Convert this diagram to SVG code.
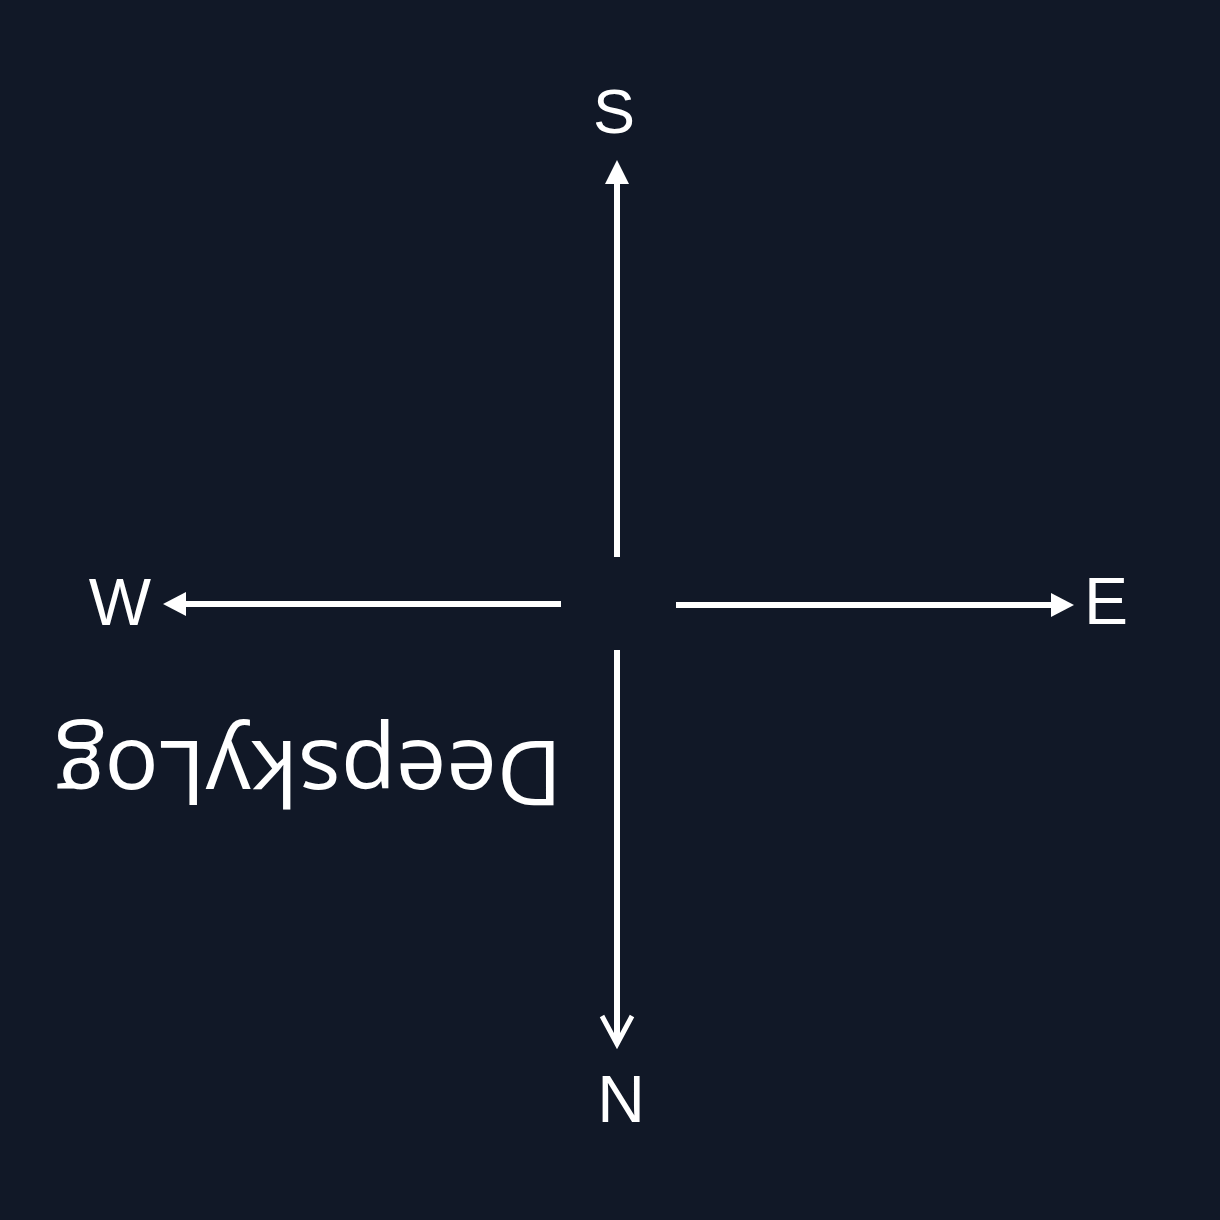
<svg xmlns="http://www.w3.org/2000/svg" width="1220" height="1220" viewBox="0 0 1220 1220">
<style>
.lbl{font-family:"Liberation Sans",Arial,sans-serif;fill:#ffffff;text-anchor:middle}
.ttl{font-family:"Open Sans","Liberation Sans",sans-serif;fill:#ffffff;text-anchor:middle}
.ln{stroke:#ffffff;stroke-width:6;fill:none}
.hd{fill:#ffffff}
</style>
<rect width="1220" height="1220" fill="#111827"/>
<g id="connectors">
<line class="ln" x1="617" y1="557" x2="617" y2="180"/>
<polygon class="hd" points="617,160 605,184 629,184"/>
<line class="ln" x1="617" y1="650" x2="617" y2="1042"/>
<polyline points="602,1016 617,1044 632,1016" fill="none" stroke="#ffffff" stroke-width="5" stroke-linejoin="miter"/>
<line class="ln" x1="561" y1="604" x2="182" y2="604"/>
<polygon class="hd" points="163,604 186,592 186,616"/>
<line class="ln" x1="676" y1="605" x2="1054" y2="605"/>
<polygon class="hd" points="1074,605 1051,593 1051,617"/>
</g>
<g id="node-S"><text class="lbl" x="614" y="133" font-size="63">S</text></g>
<g id="node-N"><text class="lbl" x="621" y="1122" font-size="66">N</text></g>
<g id="node-W"><text class="lbl" x="120" y="625" font-size="66">W</text></g>
<g id="node-E"><text class="lbl" x="1106" y="624" font-size="66">E</text></g>
<g id="node-title"><text class="ttl" font-size="90" transform="translate(309,741) rotate(180)" x="0" y="0">DeepskyLog</text></g>
</svg>
